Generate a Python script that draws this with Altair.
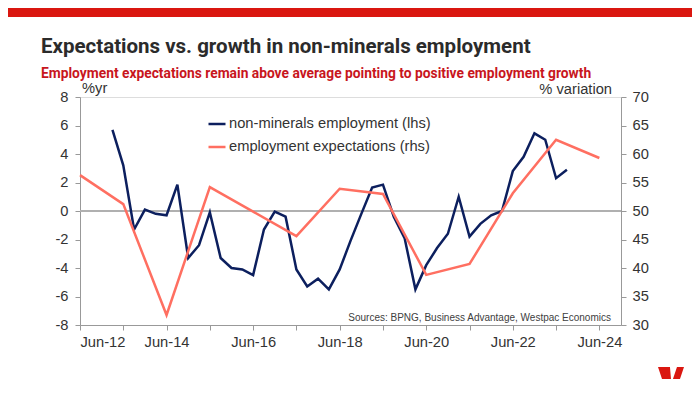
import altair as alt
import pandas as pd

# ---------------- data ----------------
MONTH_POS = {"Mar": 3, "Jun": 6, "Sep": 9, "Dec": 12}

quarters = [f"{m}-{y:02d}" for y in range(13, 24) for m in ("Mar", "Jun", "Sep", "Dec")][:43]
employment = [5.7, 3.2, -1.3, 0.1, -0.2, -0.3, 1.85, -3.3, -2.4, -0.1,
              -3.3, -4.0, -4.1, -4.5, -1.3, -0.05, -0.4, -4.1, -5.3, -4.75,
              -5.5, -4.1, -2.1, -0.2, 1.65, 1.85, -0.4, -1.9, -5.5, -3.8,
              -2.6, -1.6, 1.0, -1.8, -0.9, -0.3, 0.0, 2.8, 3.8, 5.45,
              5.0, 2.3, 2.9]

years = [f"Jun-{y:02d}" for y in range(12, 25)]
expectations = [56.3, 51.2, 31.75, 54.2, 49.9, 45.6, 53.9, 53.0, 38.8, 40.7,
                53.1, 62.5, 59.3]

SERIES = ["non-minerals employment (lhs)", "employment expectations (rhs)"]
COLORS = ["#0c1f5e", "#FF6F61"]

x_ticks = [2012.5 + i for i in range(13)]
y_left_ticks = list(range(-8, 9, 2))
y_right_ticks = list(range(30, 71, 5))


def to_pos(label):
    m, y = label.split("-")
    return 2000 + int(y) + MONTH_POS[m] / 12.0


emp_df = pd.DataFrame({"date": quarters, "val": employment})
emp_df["pos"] = emp_df["date"].map(to_pos)
emp_df["series"] = SERIES[0]

exp_df = pd.DataFrame({"date": years, "val": expectations})
exp_df["pos"] = exp_df["date"].map(to_pos)
exp_df["series"] = SERIES[1]

FONT = "Liberation Sans"
TITLE_FONT = "Roboto"
LABEL_COLOR = "#333333"
AXIS_GRAY = "#999999"
LBL = dict(labelFont=FONT, labelFontSize=14.7, labelColor=LABEL_COLOR,
           domainColor=AXIS_GRAY, tickColor=AXIS_GRAY, domainWidth=1, tickWidth=1)

x_enc = alt.X(
    "pos:Q",
    scale=alt.Scale(domain=[2012.5, 2025.0], nice=False, zero=False),
    axis=alt.Axis(values=x_ticks, title=None, grid=False, tickSize=5, labelPadding=4,
                  labelExpr="(floor(datum.value) % 2 == 0) ? 'Jun-' + format(floor(datum.value) % 100, '02d') : ''",
                  labelOverlap=False, **LBL),
)

left_axis = alt.Axis(values=y_left_ticks, title=None, grid=False, orient="left",
                     tickSize=5, labelPadding=7, labelExpr="'' + datum.value", **LBL)
right_axis = alt.Axis(values=y_right_ticks, title=None, grid=False, orient="right",
                      tickSize=5, labelPadding=6, labelExpr="'' + datum.value", **LBL)

color_enc = alt.Color(
    "series:N",
    scale=alt.Scale(domain=SERIES, range=COLORS),
    legend=alt.Legend(title=None, orient="none", legendX=127, legendY=17,
                      symbolType="stroke", symbolStrokeWidth=2.5, symbolSize=289,
                      labelFont=FONT, labelFontSize=14.7, labelColor=LABEL_COLOR,
                      labelLimit=400, labelOffset=2, rowPadding=6, padding=0,
                      direction="vertical"),
)

zero_rule = alt.Chart(pd.DataFrame({"z": [0]})).mark_rule(color="#b0b0b0", strokeWidth=2).encode(
    y=alt.Y("z:Q", scale=alt.Scale(domain=[-8, 8], nice=False), axis=left_axis)
)

navy = alt.Chart(emp_df).mark_line(strokeWidth=2.5).encode(
    x=x_enc,
    y=alt.Y("val:Q", scale=alt.Scale(domain=[-8, 8], nice=False), axis=left_axis),
    color=color_enc,
)

red = alt.Chart(exp_df).mark_line(strokeWidth=2.5).encode(
    x=x_enc,
    y=alt.Y("val:Q", scale=alt.Scale(domain=[30, 70], nice=False, zero=False), axis=right_axis),
    color=color_enc,
)

one = alt.Data(values=[{"a": 1}])


def txt(text, x, y, size, color, font=FONT, weight="normal", align="left", baseline="middle"):
    return alt.Chart(one).mark_text(
        text=text, font=font, fontSize=size, color=color, fontWeight=weight,
        align=align, baseline=baseline
    ).encode(x=alt.value(x), y=alt.value(y))


title = txt("Expectations vs. growth in non-minerals employment", -39, -44, 20.5, "#2b2b2b",
            font=TITLE_FONT, weight="bold", baseline="alphabetic")
subtitle = txt("Employment expectations remain above average pointing to positive employment growth",
               -39, -19, 13.8, "#C8161D", font=TITLE_FONT, weight="bold", baseline="alphabetic")
lhs_lab = txt("%yr", 2, -8, 14.7, LABEL_COLOR)
rhs_lab = txt("% variation", 532, -7.5, 14.7, LABEL_COLOR, align="right")
source = txt("Sources: BPNG, Business Advantage, Westpac Economics", 531, 220.7, 10, "#404040",
             align="right")

top_bar = alt.Chart(one).mark_rect(color="#DA1710").encode(
    x=alt.value(-72), x2=alt.value(612), y=alt.value(-89), y2=alt.value(-80)
)

logo_path = ("M -1 -0.46 L -0.08 -0.46 L 0 0.46 L -0.69 0.46 Z "
             "M 0.46 -0.46 L 1 -0.46 L 0.69 0.46 L 0.15 0.46 Z")
logo = alt.Chart(one).mark_point(shape=logo_path, filled=True, size=676, color="#DA1710",
                                 opacity=1, strokeWidth=0).encode(
    x=alt.value(591), y=alt.value(276)
)

chart = alt.layer(
    alt.layer(zero_rule, navy),
    red,
    title, subtitle, lhs_lab, rhs_lab, source, top_bar, logo,
).resolve_scale(y="independent").properties(
    width=541, height=228,
    padding={"left": 72, "top": 89, "right": 71, "bottom": 60},
    autosize=alt.AutoSizeParams(type="none"),
).configure_view(
    stroke=AXIS_GRAY, strokeWidth=1
).configure(background="white")

chart.save("out.html", embed_options={"renderer": "svg", "actions": False})
